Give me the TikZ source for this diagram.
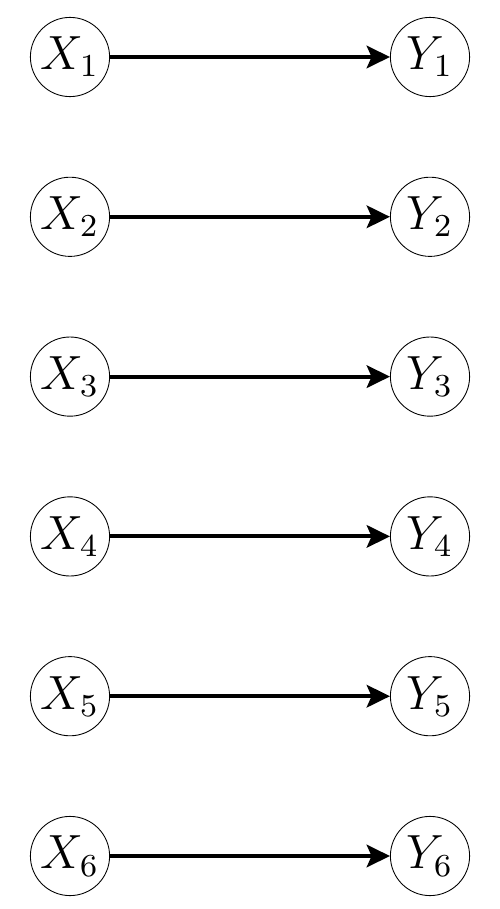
\documentclass[tikz,border=0pt]{standalone}
\usetikzlibrary{arrows.meta}
\begin{document}
\begin{tikzpicture}[x=0.25pt,y=-0.25pt,
  var/.style={circle,draw,line width=0.22pt,minimum size=19.8pt,inner sep=0pt,font=\fontsize{12}{14}\selectfont},
  edge/.style={line width=1pt,-{Stealth[length=5.8pt,width=5.6pt,inset=1.2pt]}}]
\useasboundingbox (0,0) rectangle (500,909);
\foreach \i in {1,...,6}{
  \pgfmathsetmacro{\yy}{57+159.8*(\i-1)}
  \node[var] (x\i) at (70,\yy) {$X_{\i}$};
  \node[var] (y\i) at (430,\yy) {$Y_{\i}$};
  \draw[edge] (x\i) -- (y\i);
}
\end{tikzpicture}
\end{document}
